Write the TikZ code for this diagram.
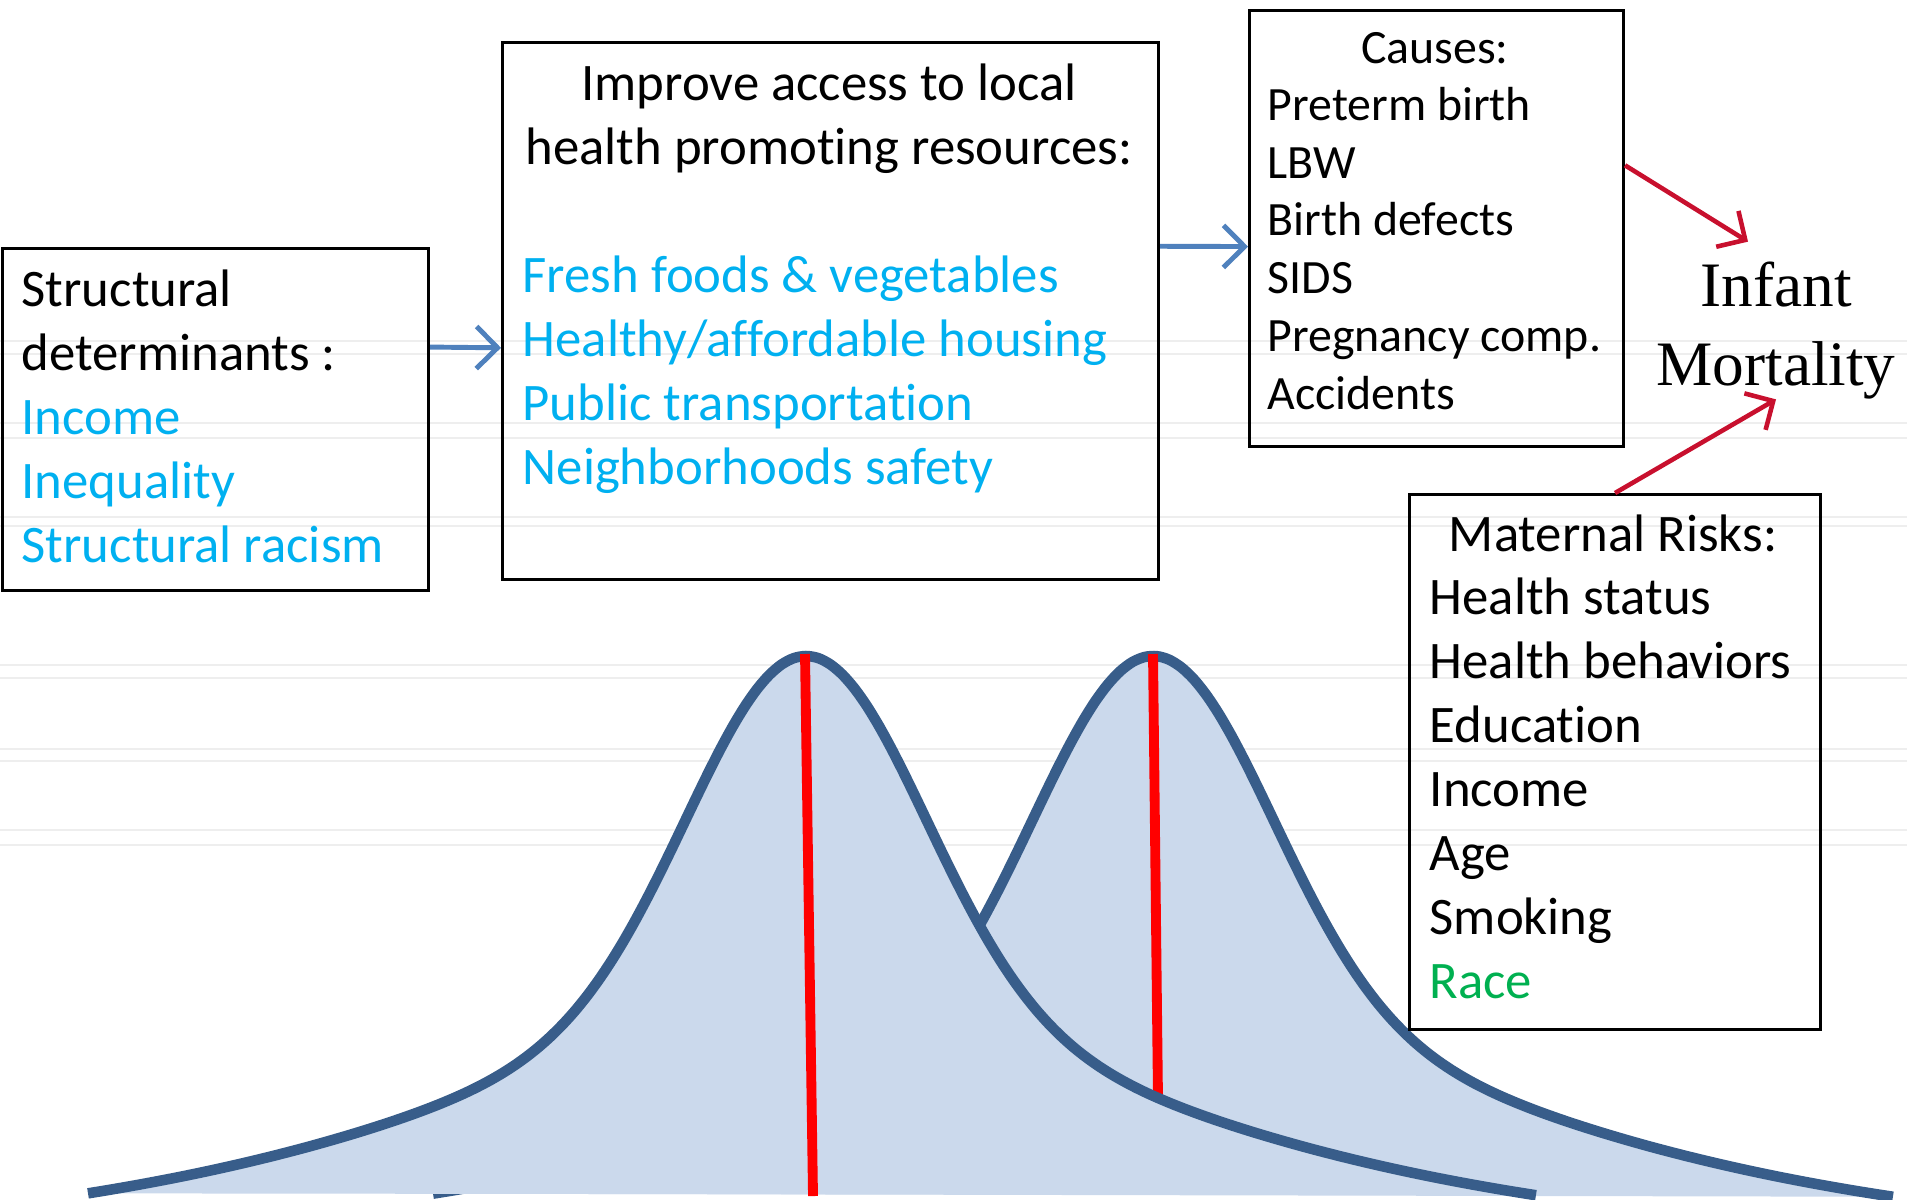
\documentclass[tikz,border=0pt]{standalone}
\usepackage{fontspec}
\setmainfont{Carlito}[Ligatures=NoCommon]
\newfontfamily\timesfont{Liberation Serif}
\usetikzlibrary{arrows.meta,positioning,calc}

\definecolor{hiblue}{RGB}{0,176,240}
\definecolor{higreen}{RGB}{0,176,80}
\definecolor{linkblue}{RGB}{79,129,189}
\definecolor{linkred}{RGB}{200,16,46}
\definecolor{bellline}{RGB}{56,93,138}
\definecolor{bellfill}{RGB}{203,217,236}
\definecolor{watermark}{RGB}{238,238,238}

\tikzset{
  frame/.style={draw=black, line width=0.8pt, inner sep=0pt, anchor=north west},
  boxtext/.style={inner sep=0pt, align=left, font=\fontsize{15}{18.2}\selectfont},
  smalltext/.style={inner sep=0pt, align=left, font=\fontsize{13.6}{16.4}\selectfont},
  bluelink/.style={->, linkblue, line width=1.4pt},
  redlink/.style={->, linkred, line width=1.3pt},
  bell/.style={bellline, line width=3pt},
  median/.style={red, line width=2.8pt},
}

\begin{document}
\begin{tikzpicture}[x=0.01cm, y=-0.01cm, >={Straight Barb[length=6pt,width=12pt]},
    declare function={bell(\u)=1276-350*exp(-(\u)^2/2.645)-270/(1+((\u)/4.77)^2);}]
\useasboundingbox (0,0) rectangle (1907,1199);

% faint rules behind everything
\foreach \y in {341,354,423,438,517,526,665,678,749,761,830,845}
  \draw[watermark, line width=0.8pt] (0,\y) -- (1907,\y);

% right distribution first, the left one sits on top of it
\fill[bellfill,smooth,samples=120,domain=-7.2:7.4] plot({1153+100*\x},{bell(\x)}) -- cycle;
\draw[bell,smooth,samples=120,domain=-7.2:7.4] plot({1153+100*\x},{bell(\x)});
\draw[median] (1153,654) -- (1158,1100);
\fill[bellfill,smooth,samples=120,domain=-7.18:7.3] plot({806+100*\x},{bell(\x)}) -- cycle;
\draw[bell,smooth,samples=120,domain=-7.18:7.3] plot({806+100*\x},{bell(\x)});
\draw[median] (805,654) -- (813,1196);

% boxes
\node[frame, minimum width=4.26cm, minimum height=3.42cm] (determ) at (1,247) {};
\node[frame, minimum width=6.56cm, minimum height=5.37cm] (access) at (501,41) {};
\node[frame, minimum width=3.74cm, minimum height=4.36cm] (causes) at (1248,9) {};
\node[frame, minimum width=4.11cm, minimum height=5.35cm] (risks) at (1408,493) {};

% texts, anchored on the baseline of their last line
\node[boxtext, anchor=base west] (determtxt) at (21,562)
  {Structural\\determinants :\\\textcolor{hiblue}{Income}\\\textcolor{hiblue}{Inequality}\\\textcolor{hiblue}{Structural racism}};

\node[boxtext, align=center, anchor=base] (accesshead) at (829,164)
  {Improve access to local\\health promoting resources:};
\node[boxtext, text=hiblue, anchor=base west] (accesslist) at (522,484)
  {Fresh foods \& vegetables\\Healthy/affordable housing\\Public transportation\\Neighborhoods safety};

\node[smalltext, anchor=base] (causeshead) at (1435,63) {Causes:};
\node[smalltext, anchor=base west] (causeslist) at (1267,409)
  {Preterm birth\\LBW\\Birth defects\\SIDS\\Pregnancy comp.\\Accidents};

\node[boxtext, anchor=base] (riskshead) at (1613,551) {Maternal Risks:};
\node[boxtext, anchor=base west] (riskslist) at (1429,998)
  {Health status\\Health behaviors\\Education\\Income\\Age\\Smoking\\\textcolor{higreen}{Race}};

\node[inner sep=0pt, align=center, font=\timesfont\fontsize{18}{22.2}\selectfont, anchor=base] (mort) at (1776,385)
  {Infant\\Mortality};

% links
\draw[bluelink] ($(determ.north east)!0.29!(determ.south east)$) -- ($(access.north west)!0.568!(access.south west)$);
\draw[bluelink] ($(access.north east)!0.38!(access.south east)$) -- ($(causes.north west)!0.541!(causes.south west)$);
\draw[redlink] ($(causes.north east)!0.356!(causes.south east)$) -- ([xshift=-0.28cm,yshift=0.2cm]mort.north);
\draw[redlink] (risks.north) -- (mort.south);
\end{tikzpicture}
\end{document}
